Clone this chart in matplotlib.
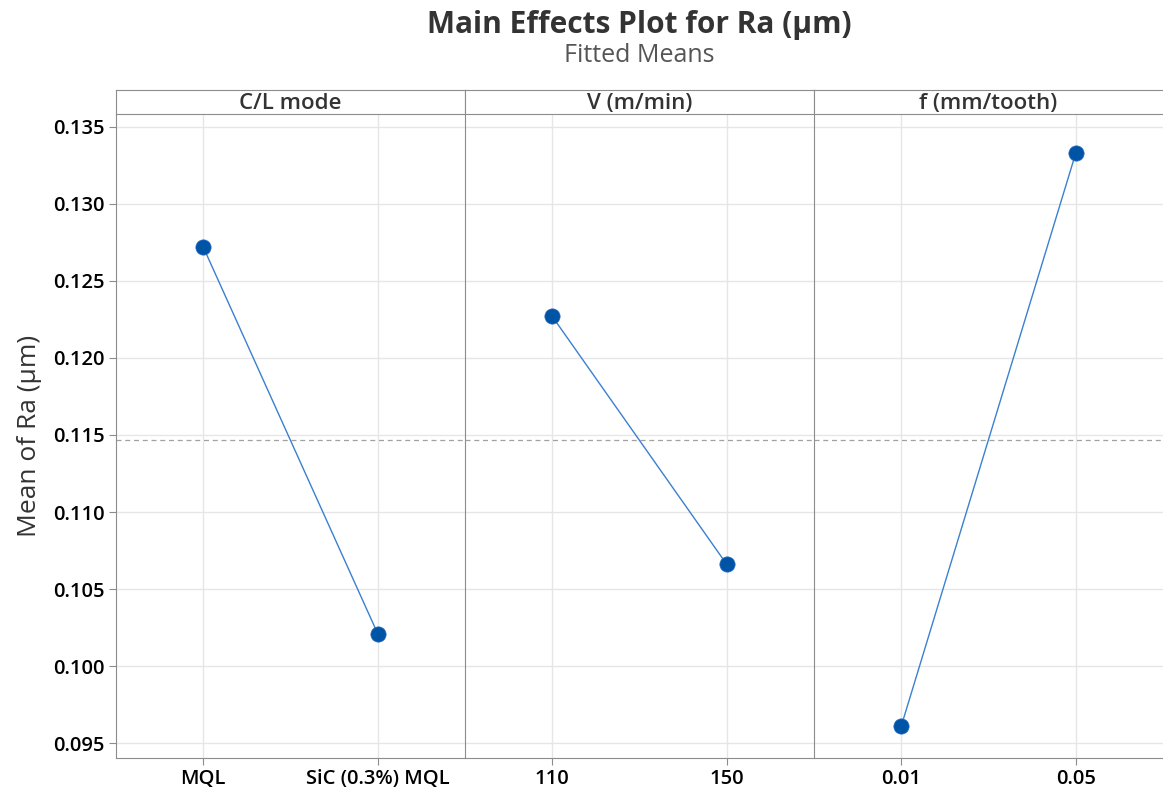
import matplotlib
matplotlib.use("Agg")
import matplotlib.pyplot as plt

plt.rcParams["font.family"] = ["Open Sans", "DejaVu Sans"]

# data
factors = ["C/L mode", "V (m/min)", "f (mm/tooth)"]
levels = [["MQL", "SiC (0.3%) MQL"], ["110", "150"], ["0.01", "0.05"]]
means = [[0.1272, 0.1021], [0.1227, 0.1066], [0.0961, 0.1333]]
grand_mean = 0.1147
yticks = [0.095, 0.100, 0.105, 0.110, 0.115, 0.120, 0.125, 0.130, 0.135]

W, H = 1163, 794
fig = plt.figure(figsize=(W / 100, H / 100), dpi=100)

EDGE = "#8c8c8c"
GRID = "#e6e6e6"
MARK = "#0054a6"
LINE = "#3a80d0"
TXT = "#333333"

x0, x1 = 116, 1163
pw = (x1 - x0) / 3
ybot, ytop, strip_top = 758, 114, 90

for i, (fac, lev, m) in enumerate(zip(factors, levels, means)):
    left = (x0 + i * pw) / W
    ax = fig.add_axes([left, 1 - ybot / H, pw / W, (ybot - ytop) / H])
    ax.plot([0, 1], m, "-", color=LINE, lw=1.0, zorder=3)
    ax.plot([0, 1], m, "o", color=MARK, ms=11, mec="#2a6cc0", mew=0.5, zorder=4)
    ax.axhline(grand_mean, color="#a0a0a0", ls=(0, (4, 3)), lw=0.9, zorder=2)
    ax.set_xlim(-0.5, 1.5)
    ax.set_ylim(0.09403, 0.13584)
    ax.set_yticks(yticks)
    ax.set_xticks([0, 1])
    ax.set_xticklabels(lev, fontsize=14.5, fontweight="semibold", color="black")
    ax.grid(True, color=GRID, lw=1.0, zorder=0)
    ax.set_axisbelow(True)
    for s in ["top", "right"]:
        ax.spines[s].set_visible(False)
    ax.spines["bottom"].set_color(EDGE)
    ax.spines["left"].set_color(EDGE)
    ax.tick_params(axis="x", length=5, color=EDGE, pad=3)
    if i == 0:
        ax.tick_params(axis="y", length=5, color=EDGE, labelsize=14.5, pad=3)
        for t in ax.get_yticklabels():
            t.set_fontweight("semibold")
        ax.yaxis.set_major_formatter(matplotlib.ticker.FormatStrFormatter("%.3f"))
        ax.set_ylabel("Mean of Ra (µm)", fontsize=19, color=TXT, labelpad=8)
    else:
        ax.tick_params(axis="y", length=0, labelleft=False)

    # header strip
    sx = fig.add_axes([left, 1 - ytop / H, pw / W, (ytop - strip_top) / H])
    sx.set_xticks([]); sx.set_yticks([])
    for s in sx.spines.values():
        s.set_color(EDGE)
    if i == 2:
        sx.spines["right"].set_visible(False)
    sx.text(0.5, 0.45, fac, ha="center", va="center", fontsize=16,
            fontweight="semibold", color=TXT, transform=sx.transAxes)

cx = (x0 + x1) / 2 / W
fig.text(cx, 1 - 25 / H, "Main Effects Plot for Ra (µm)", ha="center", va="center",
         fontsize=21.5, fontweight="bold", color=TXT)
fig.text(cx, 1 - 55 / H, "Fitted Means", ha="center", va="center",
         fontsize=18, color="#555555")

fig.savefig("out.png", dpi=100)
